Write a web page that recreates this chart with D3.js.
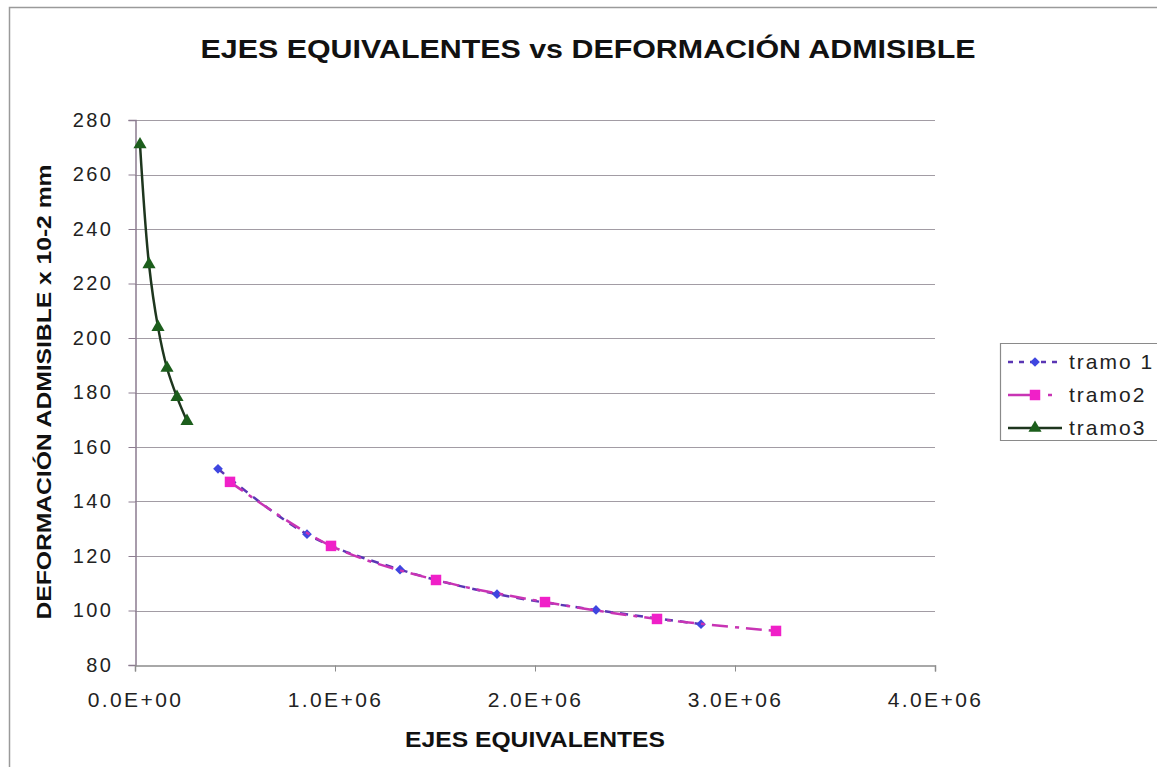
<!DOCTYPE html>
<html>
<head>
<meta charset="utf-8">
<script src="https://cdn.jsdelivr.net/npm/d3@7"></script>
<style>
  html, body { margin: 0; padding: 0; background: #fff; }
  svg { display: block; font-family: "Liberation Sans", Arial, sans-serif; }
</style>
</head>
<body>
<svg id="chart" width="1157" height="767"></svg>
<script>
// Ejes equivalentes (x) vs deformación admisible (y), three road sections
const tramo1X = [415000, 860000, 1325000, 1810000, 2305000, 2830000];
const tramo1Y = [152, 128, 115, 106, 100.2, 95];
const tramo2X = [475000, 980000, 1505000, 2050000, 2610000, 3205000];
const tramo2Y = [147.2, 123.7, 111.2, 103.1, 96.9, 92.5];
const tramo3X = [25000, 70000, 115000, 160000, 210000, 260000];
const tramo3Y = [271, 227, 204, 189, 178.3, 169.5];

const seriesNames = ["tramo 1", "tramo2", "tramo3"];
const xTicks = [0, 1e6, 2e6, 3e6, 4e6];
const xTickLabels = ["0.0E+00", "1.0E+06", "2.0E+06", "3.0E+06", "4.0E+06"];
const yTicks = [80, 100, 120, 140, 160, 180, 200, 220, 240, 260, 280];

const titleText = "EJES EQUIVALENTES vs DEFORMACIÓN ADMISIBLE";
const xTitle = "EJES EQUIVALENTES";
const yTitle = "DEFORMACIÓN ADMISIBLE x 10-2 mm";

const svg = d3.select("#chart");
const FONT = "'Liberation Sans', Arial, sans-serif";

// outer chart frame
svg.append("path")
  .attr("d", "M9.5,767 V7.5 H1157")
  .attr("fill", "none").attr("stroke", "#9a9a9a").attr("stroke-width", 1.5);

const x = d3.scaleLinear().domain([0, 4e6]).range([135, 935]);
const y = d3.scaleLinear().domain([80, 280]).range([665, 120]);

// horizontal gridlines
svg.append("g").selectAll("line").data(yTicks.slice(1)).join("line")
  .attr("x1", x(0)).attr("x2", x(4e6))
  .attr("y1", d => Math.round(y(d)) + 0.5).attr("y2", d => Math.round(y(d)) + 0.5)
  .attr("stroke", "#a29ca4").attr("stroke-width", 1);

// y axis
const yAxis = svg.append("g")
  .attr("transform", `translate(${x(0) + 0.5},0)`)
  .call(d3.axisLeft(y).tickValues(yTicks).tickSize(7).tickPadding(15).tickFormat(d3.format("d")));
yAxis.select(".domain").attr("stroke", "#8c7c90").attr("stroke-width", 1.5);
yAxis.selectAll(".tick line").attr("stroke", "#8c7c90");
yAxis.selectAll("text").attr("font-size", 20).attr("fill", "#222")
  .attr("letter-spacing", 2.5).attr("font-family", FONT);

// x axis
const xAxis = svg.append("g")
  .attr("transform", `translate(0,${Math.round(y(80)) + 0.5})`)
  .call(d3.axisBottom(x).tickValues(xTicks).tickSize(6).tickPadding(21)
    .tickFormat((d, i) => xTickLabels[i]));
xAxis.select(".domain").attr("stroke", "#8c8c8c").attr("stroke-width", 1.5);
xAxis.selectAll(".tick line").attr("stroke", "#8c8c8c");
xAxis.selectAll("text").attr("font-size", 21).attr("fill", "#222")
  .attr("letter-spacing", 2.4).attr("font-family", FONT);

// series
const series = [
  { name: seriesNames[0], xs: tramo1X, ys: tramo1Y, line: "#5a36b4", marker: "#3f46e0",
    dash: "8,7", legendDash: "5,6", symbol: d3.symbolDiamond2, size: 60 },
  { name: seriesNames[1], xs: tramo2X, ys: tramo2Y, line: "#c834b4", marker: "#f020c8",
    dash: "16,7,4,7", legendDash: "30,10,4,20", symbol: d3.symbolSquare, size: 110 },
  { name: seriesNames[2], xs: tramo3X, ys: tramo3Y, line: "#1e361e", marker: "#1c5e1c",
    dash: null, legendDash: null, symbol: d3.symbolTriangle, size: 75 }
];

const line = d3.line().x(d => x(d[0])).y(d => y(d[1])).curve(d3.curveCatmullRom.alpha(0.5));

series.forEach(s => {
  const pts = s.xs.map((v, i) => [v, s.ys[i]]);
  svg.append("path").datum(pts)
    .attr("d", line)
    .attr("fill", "none")
    .attr("stroke", s.line)
    .attr("stroke-width", 2.5)
    .attr("stroke-dasharray", s.dash);
  svg.append("g").selectAll("path").data(pts).join("path")
    .attr("transform", d => `translate(${x(d[0])},${y(d[1])})`)
    .attr("d", d3.symbol().type(s.symbol).size(s.size))
    .attr("fill", s.marker);
});

// title
svg.append("text")
  .attr("x", 588).attr("y", 58)
  .attr("text-anchor", "middle")
  .attr("font-size", 25).attr("font-weight", "bold").attr("fill", "#111")
  .attr("textLength", 775).attr("lengthAdjust", "spacingAndGlyphs")
  .text(titleText);

// axis titles
svg.append("text")
  .attr("x", 535).attr("y", 747)
  .attr("text-anchor", "middle")
  .attr("font-size", 22).attr("font-weight", "bold").attr("fill", "#111")
  .attr("textLength", 260).attr("lengthAdjust", "spacingAndGlyphs")
  .text(xTitle);

svg.append("text")
  .attr("transform", "translate(51,392) rotate(-90)")
  .attr("text-anchor", "middle")
  .attr("font-size", 20).attr("font-weight", "bold").attr("fill", "#111")
  .attr("textLength", 455).attr("lengthAdjust", "spacingAndGlyphs")
  .text(yTitle);

// legend
const lg = svg.append("g");
lg.append("path")
  .attr("d", "M1157,343.5 H1000.5 V440.5 H1157")
  .attr("fill", "#fff").attr("stroke", "#8a8a8a").attr("stroke-width", 1.2);
series.forEach((s, i) => {
  const cy = 362 + i * 33;
  lg.append("line")
    .attr("x1", 1008).attr("x2", 1062).attr("y1", cy).attr("y2", cy)
    .attr("stroke", s.line).attr("stroke-width", 2.5)
    .attr("stroke-dasharray", s.legendDash);
  lg.append("path")
    .attr("transform", `translate(1035,${cy})`)
    .attr("d", d3.symbol().type(s.symbol).size(s.size))
    .attr("fill", s.marker);
  lg.append("text")
    .attr("x", 1069).attr("y", cy + 7)
    .attr("font-size", 21).attr("fill", "#222")
    .attr("letter-spacing", 2)
    .text(s.name);
});
</script>
</body>
</html>
